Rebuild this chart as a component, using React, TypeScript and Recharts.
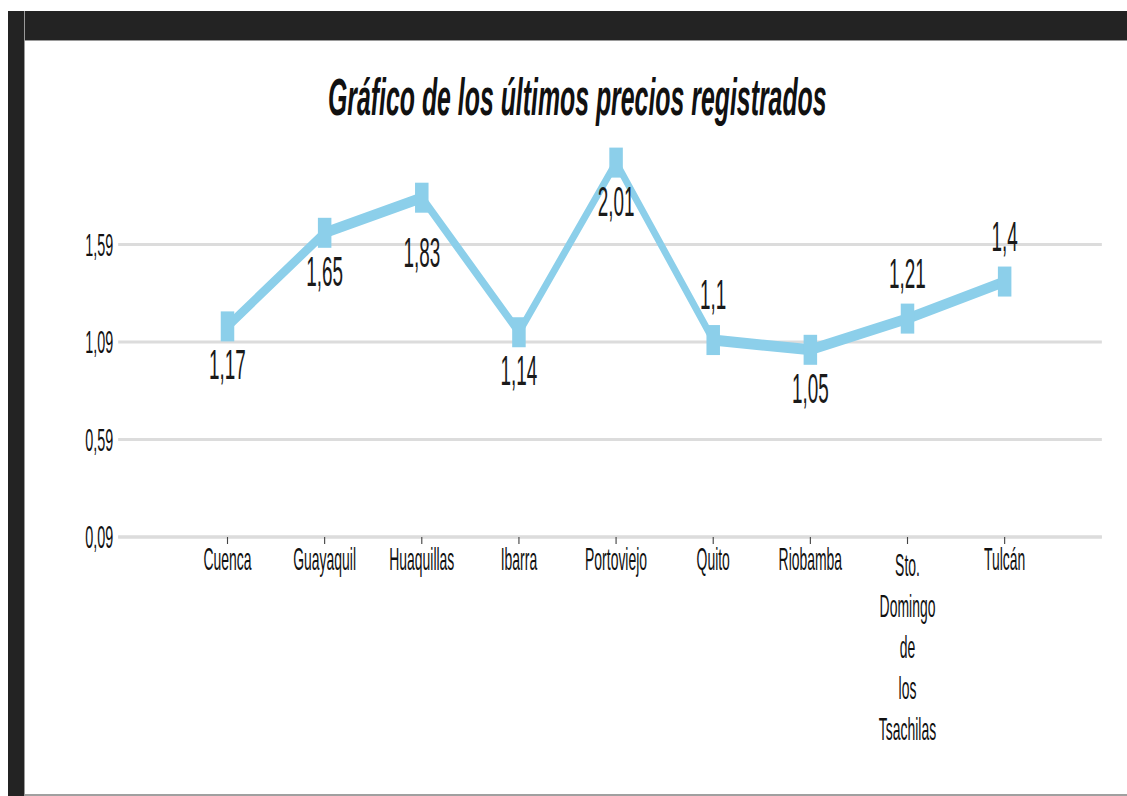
import { LineChart, Line, XAxis, YAxis, CartesianGrid, LabelList } from 'recharts';

const cities = [
  'Cuenca',
  'Guayaquil',
  'Huaquillas',
  'Ibarra',
  'Portoviejo',
  'Quito',
  'Riobamba',
  'Sto. Domingo de los Tsachilas',
  'Tulcán',
];
const prices = [1.17, 1.65, 1.83, 1.14, 2.01, 1.1, 1.05, 1.21, 1.4];
const yTicks = [0.09, 0.59, 1.09, 1.59];
const yDomain = [0.09, 2.09];
// where each value label sits next to its point
const labelSides = ['below', 'below', 'belowFar', 'below', 'below', 'above', 'below', 'above', 'above'];

const data = cities.map((city, i) => ({ city, price: prices[i] }));

// the original picture is squeezed sideways, so the chart is drawn wide and scaled down
const SX = 0.45;
const FONT = '"Liberation Sans", Arial, sans-serif';
const fmt = (v: number) => String(v).replace('.', ',');

function CityTick({ x, y, payload }: any) {
  const words = String(payload.value).split(' ');
  const multi = words.length > 1;
  return (
    <text x={x} y={y + (multi ? 6 : 0)} textAnchor="middle" fontSize={31} fill="#111">
      {words.map((w, i) => (
        <tspan key={i} x={x} dy={i === 0 ? '0.71em' : 41}>
          {w}
        </tspan>
      ))}
    </text>
  );
}

function PriceLabel(props: any) {
  const { x, y, value, index } = props;
  const side = labelSides[index];
  const baseline = side === 'above' ? y - 31 : side === 'belowFar' ? y + 69 : y + 53;
  return (
    <text x={x} y={baseline} textAnchor="middle" fontSize={42} fill="#1a1a1a">
      {fmt(value)}
    </text>
  );
}

function SquareDot({ cx, cy }: any) {
  if (cx == null || cy == null) return null;
  return <rect x={cx - 15} y={cy - 15} width={30} height={30} fill="#8ccfea" />;
}

export default function App() {
  return (
    <div
      style={{
        position: 'fixed',
        left: 0,
        top: 0,
        width: 1127,
        height: 796,
        background: '#fff',
        overflow: 'hidden',
        fontFamily: FONT,
      }}
    >
      <div style={{ position: 'absolute', left: 8, top: 11, width: 1119, height: 29, background: '#232323', borderBottom: '1px solid #9a9a9a' }} />
      <div style={{ position: 'absolute', left: 8, top: 11, width: 16, height: 785, background: '#232323', borderRight: '1px solid #9a9a9a' }} />
      <div style={{ position: 'absolute', left: 25, top: 794, width: 1102, height: 2, background: '#a0a0a0' }} />

      <svg style={{ position: 'absolute', left: 0, top: 0 }} width={1127} height={140}>
        <text
          transform="translate(328,115) scale(0.478,1)"
          x={0}
          y={0}
          fontSize={52}
          fontWeight="bold"
          fontStyle="italic"
          fill="#111"
        >
          Gráfico de los últimos precios registrados
        </text>
      </svg>

      <div
        style={{
          position: 'absolute',
          left: 25,
          top: 41,
          width: 2449,
          height: 753,
          transform: `scaleX(${SX})`,
          transformOrigin: '0 0',
        }}
      >
        <LineChart width={2449} height={753} data={data} margin={{ top: 106, right: 56, bottom: 0, left: 0 }}>
          <CartesianGrid vertical={false} stroke="#dcdcdc" strokeWidth={3} horizontalValues={yTicks} />
          <XAxis
            dataKey="city"
            scale="point"
            padding={{ left: 243, right: 216 }}
            height={257}
            interval={0}
            axisLine={{ stroke: '#dcdcdc', strokeWidth: 3 }}
            tickLine={{ stroke: '#444', strokeWidth: 2.5 }}
            tickSize={7}
            tickMargin={4}
            tick={<CityTick />}
          />
          <YAxis
            type="number"
            domain={yDomain}
            ticks={yTicks}
            width={207}
            axisLine={false}
            tickLine={false}
            tickSize={0}
            tickMargin={11}
            tickFormatter={fmt}
            tick={{ fontSize: 32, fill: '#111' }}
          />
          <Line
            type="linear"
            dataKey="price"
            stroke="#8ccfea"
            strokeWidth={11}
            dot={<SquareDot />}
            activeDot={false}
            isAnimationActive={false}
          >
            <LabelList dataKey="price" content={<PriceLabel />} />
          </Line>
        </LineChart>
      </div>
    </div>
  );
}
